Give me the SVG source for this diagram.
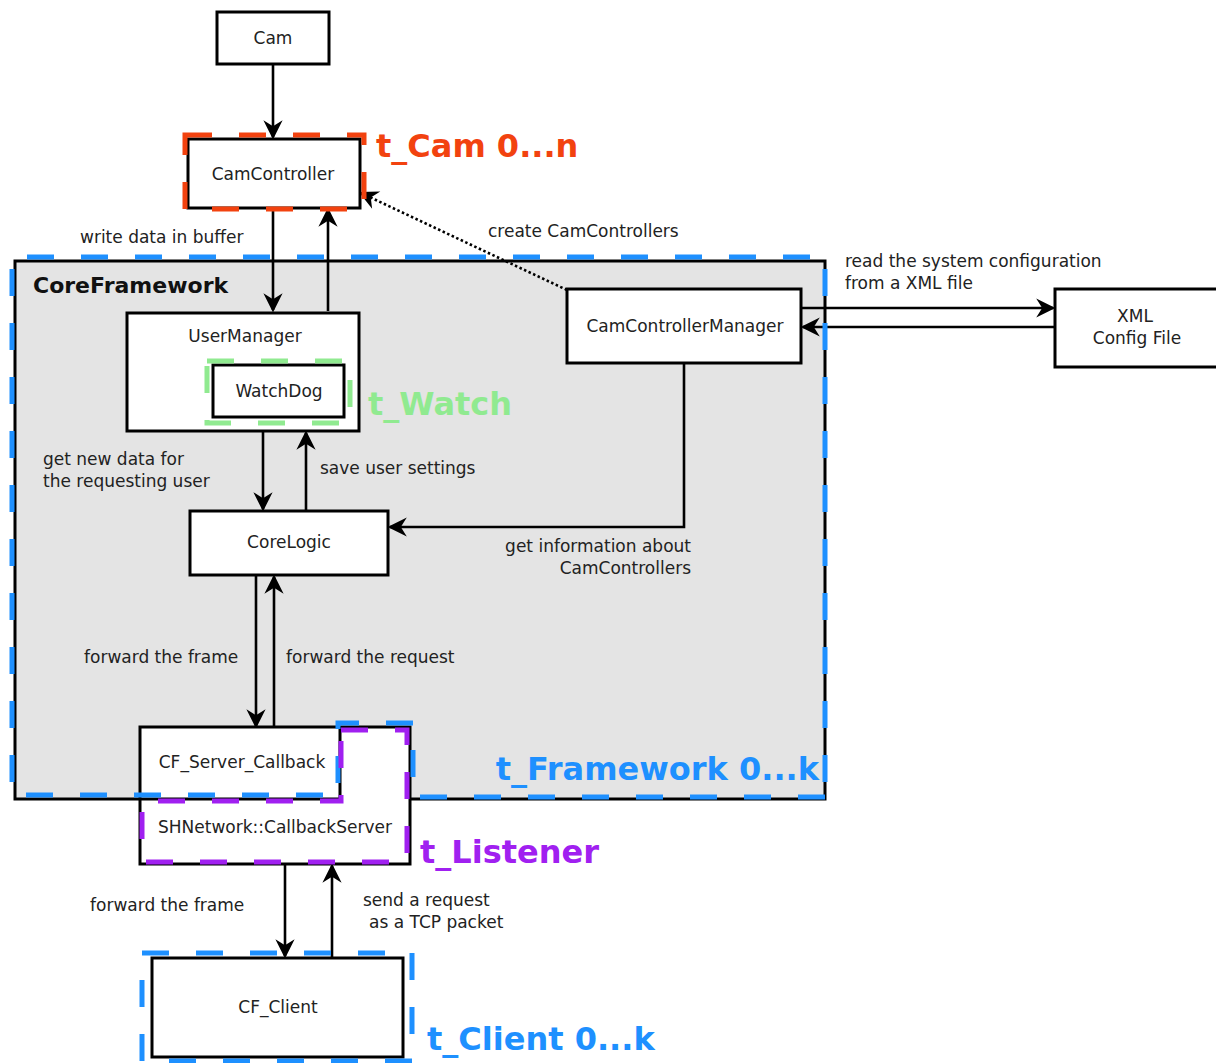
<svg xmlns="http://www.w3.org/2000/svg" width="1216" height="1063" viewBox="0 0 1216 1063">
  <defs>
    <marker id="arrow" markerUnits="userSpaceOnUse" markerWidth="24" markerHeight="24" viewBox="-16 -10 20 20" refX="0" refY="0" orient="auto">
      <path d="M2,0 L-14,-8 L-9,0 L-14,8 Z" fill="#000"/>
    </marker>
    <style>
      .box { fill: #fff; stroke: #000; stroke-width: 3; }
      .lbl { font-family: "DejaVu Sans", "Noto Sans", sans-serif; font-size: 17px; fill: #222; }
      .mid { text-anchor: middle; }
      .end { text-anchor: end; }
      .title { font-family: "DejaVu Sans", "Noto Sans", sans-serif; font-weight: bold; }
      .dash { fill: none; stroke-width: 5; stroke-dasharray: 27 27; }
      .conn { fill: none; stroke: #000; stroke-width: 2.6; }
    </style>
  </defs>

  <!-- CoreFramework container -->
  <g id="coreframework">
    <rect x="15" y="261" width="810" height="538" fill="#e4e4e4" stroke="#000" stroke-width="3"/>
    <text class="title" x="33" y="293" font-size="22" fill="#111">CoreFramework</text>
  </g>

  <!-- Connectors -->
  <g id="connectors">
    <path class="conn" d="M273,64 V137" marker-end="url(#arrow)"/>
    <path class="conn" d="M273,209 V310" marker-end="url(#arrow)"/>
    <path class="conn" d="M328,311 V210" marker-end="url(#arrow)"/>
    <path class="conn" d="M567,290 L361,193" stroke-dasharray="2.5 2.5" marker-end="url(#arrow)"/>
    <path class="conn" d="M801,308 H1053" marker-end="url(#arrow)"/>
    <path class="conn" d="M1055,327 H803" marker-end="url(#arrow)"/>
    <path class="conn" d="M263,431 V509" marker-end="url(#arrow)"/>
    <path class="conn" d="M306,511 V433" marker-end="url(#arrow)"/>
    <path class="conn" d="M684,363 V527 H390" marker-end="url(#arrow)"/>
    <path class="conn" d="M256,575 V726" marker-end="url(#arrow)"/>
    <path class="conn" d="M274,727 V577" marker-end="url(#arrow)"/>
    <path class="conn" d="M285,864 V956" marker-end="url(#arrow)"/>
    <path class="conn" d="M332,958 V866" marker-end="url(#arrow)"/>
  </g>

  <!-- Connector labels -->
  <g id="connector-labels">
    <text class="lbl" x="80" y="243">write data in buffer</text>
    <text class="lbl" x="488" y="237">create CamControllers</text>
    <text class="lbl" x="845" y="267">read the system configuration</text>
    <text class="lbl" x="845" y="289">from a XML file</text>
    <text class="lbl" x="43" y="465">get new data for</text>
    <text class="lbl" x="43" y="487">the requesting user</text>
    <text class="lbl" x="320" y="474">save user settings</text>
    <text class="lbl end" x="691" y="552">get information about</text>
    <text class="lbl end" x="691" y="574">CamControllers</text>
    <text class="lbl" x="84" y="663">forward the frame</text>
    <text class="lbl" x="286" y="663">forward the request</text>
    <text class="lbl" x="90" y="911">forward the frame</text>
    <text class="lbl" x="363" y="906">send a request</text>
    <text class="lbl" x="369" y="928">as a TCP packet</text>
  </g>

  <!-- Nodes -->
  <g id="cam">
    <rect class="box" x="217" y="12" width="112" height="52"/>
    <text class="lbl mid" x="273" y="44">Cam</text>
  </g>

  <g id="camcontroller">
    <rect class="box" x="188" y="139" width="172" height="69"/>
    <text class="lbl mid" x="273" y="180">CamController</text>
    <rect class="dash" x="185" y="135" width="179" height="74" stroke="#f2420f"/>
    <text class="title" x="376" y="157" font-size="32" fill="#f2420f">t_Cam 0...n</text>
  </g>

  <g id="usermanager">
    <rect class="box" x="127" y="313" width="232" height="118"/>
    <text class="lbl mid" x="245" y="342">UserManager</text>
  </g>

  <g id="watchdog">
    <rect class="box" x="213" y="365" width="131" height="52"/>
    <text class="lbl mid" x="279" y="397">WatchDog</text>
    <rect class="dash" x="207" y="361" width="143" height="62" stroke="#90ea90"/>
    <text class="title" x="368" y="415" font-size="32" fill="#90ea90">t_Watch</text>
  </g>

  <g id="camcontrollermanager">
    <rect class="box" x="567" y="289" width="234" height="74"/>
    <text class="lbl mid" x="685" y="332">CamControllerManager</text>
  </g>

  <g id="xml-config">
    <rect class="box" x="1055" y="289" width="164" height="78"/>
    <text class="lbl mid" x="1135" y="322">XML</text>
    <text class="lbl mid" x="1137" y="344">Config File</text>
  </g>

  <g id="corelogic">
    <rect class="box" x="190" y="511" width="198" height="64"/>
    <text class="lbl mid" x="289" y="548">CoreLogic</text>
  </g>

  <g id="listener">
    <rect class="box" x="140" y="727" width="270" height="137"/>
    <path d="M140,799 H340 V727" fill="none" stroke="#000" stroke-width="3"/>
    <text class="lbl mid" x="242" y="768">CF_Server_Callback</text>
    <text class="lbl mid" x="275" y="833">SHNetwork::CallbackServer</text>
  </g>

  <!-- t_Framework boundary -->
  <g id="t-framework">
    <path class="dash" d="M825,797 H413 V723 H338 V795 H12 V257 H825 V797" stroke="#1e90ff"/>
    <text class="title end" x="819" y="780" font-size="32" fill="#1e90ff">t_Framework 0...k</text>
  </g>

  <!-- t_Listener boundary -->
  <g id="t-listener">
    <path class="dash" d="M341,730 H407 V862 H142 V801 H341 Z" stroke="#a020f0"/>
    <text class="title" x="420" y="863" font-size="32" fill="#a020f0">t_Listener</text>
  </g>

  <g id="cf-client">
    <rect class="box" x="152" y="958" width="251" height="99"/>
    <text class="lbl mid" x="278" y="1013">CF_Client</text>
    <rect class="dash" x="142" y="953" width="270" height="108" stroke="#1e90ff"/>
    <text class="title" x="427" y="1050" font-size="32" fill="#1e90ff">t_Client 0...k</text>
  </g>
</svg>
